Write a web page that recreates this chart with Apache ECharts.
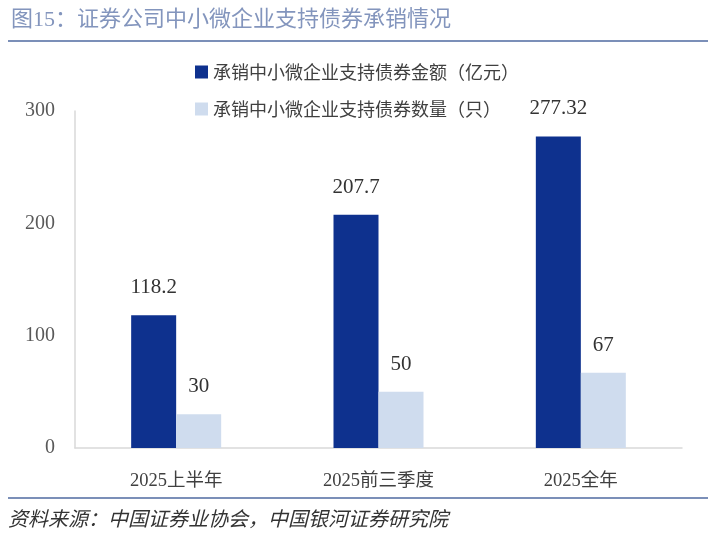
<!DOCTYPE html>
<html>
<head>
<meta charset="utf-8">
<script src="https://cdn.jsdelivr.net/npm/echarts@6/dist/echarts.min.js"></script>
<style>
  html, body { margin: 0; padding: 0; background: #fff; }
  #main { width: 708px; height: 536px; }
</style>
</head>
<body>
<div id="main"></div>
<script>
  var categories = ["2025上半年", "2025前三季度", "2025全年"];
  var amountName = "承销中小微企业支持债券金额（亿元）";
  var countName = "承销中小微企业支持债券数量（只）";
  var amountData = [118.2, 207.7, 277.32];
  var countData = [30, 50, 67];
  var yTicks = [0, 100, 200, 300];

  var numFont = "'Liberation Serif', 'Noto Sans CJK SC', serif";
  var cjkFont = "'Noto Sans CJK SC', sans-serif";
  var lineColor = "#7b8fb8";

  var chart = echarts.init(document.getElementById('main'));

  chart.setOption({
    backgroundColor: "#fff",
    animation: false,
    title: {
      text: "图15：证券公司中小微企业支持债券承销情况",
      left: 6,
      top: 4,
      textStyle: { color: "#8395bd", fontSize: 22, fontWeight: "normal", fontFamily: numFont }
    },
    legend: {
      orient: "vertical",
      left: 190,
      top: 58,
      itemWidth: 13,
      itemHeight: 13,
      itemGap: 19,
      icon: "rect",
      textStyle: { color: "#404040", fontSize: 18, fontFamily: cjkFont },
      data: [amountName, countName]
    },
    grid: { left: 75, right: 26, top: 111, bottom: 88, containLabel: false },
    xAxis: {
      type: "category",
      data: categories,
      axisLine: { show: true, lineStyle: { color: "#d9d9d9", width: 1.5 } },
      axisTick: { show: false },
      axisLabel: { color: "#404040", fontSize: 18.5, margin: 24, fontFamily: numFont }
    },
    yAxis: {
      type: "value",
      min: yTicks[0],
      max: yTicks[yTicks.length - 1],
      interval: 100,
      axisLine: { show: true, lineStyle: { color: "#d9d9d9", width: 1.5 } },
      axisTick: { show: false },
      splitLine: { show: false },
      axisLabel: { color: "#595959", fontSize: 20, margin: 20, fontFamily: numFont }
    },
    series: [
      {
        name: amountName,
        type: "bar",
        data: amountData,
        barWidth: 45,
        barGap: "0%",
        itemStyle: { color: "#0e318e" },
        label: { show: true, position: "top", distance: 17, color: "#333", fontSize: 21, fontFamily: numFont }
      },
      {
        name: countName,
        type: "bar",
        data: countData,
        barWidth: 45,
        itemStyle: { color: "#cfdcee" },
        label: { show: true, position: "top", distance: 17, color: "#333", fontSize: 21, fontFamily: numFont }
      }
    ],
    graphic: [
      {
        type: "line",
        shape: { x1: 8, y1: 41, x2: 708, y2: 41 },
        style: { stroke: lineColor, lineWidth: 2 }
      },
      {
        type: "line",
        shape: { x1: 8, y1: 498, x2: 708, y2: 498 },
        style: { stroke: lineColor, lineWidth: 2 }
      },
      {
        type: "text",
        left: 8,
        top: 508,
        style: {
          text: "资料来源：中国证券业协会，中国银河证券研究院",
          fill: "#333",
          font: "italic 20px 'Noto Sans CJK SC', sans-serif"
        }
      }
    ]
  });
</script>
</body>
</html>
